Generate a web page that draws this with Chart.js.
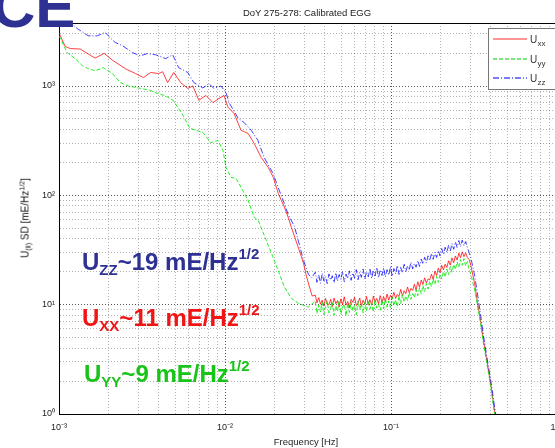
<!DOCTYPE html>
<html>
<head>
<meta charset="utf-8">
<script src="https://cdn.jsdelivr.net/npm/chart.js@4/dist/chart.umd.min.js"></script>
<style>
  html, body { margin: 0; padding: 0; background: #fff; overflow: hidden; }
  #wrap { position: relative; width: 555px; height: 448px; overflow: hidden; }
  #grafico { position: absolute; left: 0; top: 0; }
  .lbl { position: absolute; white-space: nowrap; font-family: "Liberation Sans", Arial, sans-serif; }
  .big { font-weight: bold; font-size: 24px; line-height: 24px; }
  .big .sb { font-size: 15px; position: relative; top: 5px; }
  .big .sp { font-size: 15px; position: relative; top: -11px; }
  .small .sb { font-size: 7px; position: relative; top: 2px; }
  .small .sp { font-size: 7px; position: relative; top: -4px; }
</style>
</head>
<body>
<div id="wrap">
  <canvas id="grafico" width="562" height="448"></canvas>
  <div class="lbl" style="left:157px; top:7px; width:300px; text-align:center; font-size:9.5px; color:#222;">DoY 275-278: Calibrated EGG</div>
  <div class="lbl" style="left:206px; top:436px; width:200px; text-align:center; font-size:9.5px; color:#222;">Frequency [Hz]</div>
  <div class="lbl small" style="left:25px; top:218px; font-size:10px; color:#111; transform:translate(-50%,-50%) rotate(-90deg);">U<span class="sb">(ii)</span> SD [mE/Hz<span class="sp">1/2</span>]</div>
  <div class="lbl big" style="left:82px; top:250px; color:#2E3192;">U<span class="sb">ZZ</span>~19 mE/Hz<span class="sp">1/2</span></div>
  <div class="lbl big" style="left:82px; top:306px; color:#f01414;">U<span class="sb">XX</span>~11 mE/Hz<span class="sp">1/2</span></div>
  <div class="lbl big" style="left:84px; top:362px; color:#19c419;">U<span class="sb">YY</span>~9 mE/Hz<span class="sp">1/2</span></div>
  <div class="lbl" style="left:-8px; top:-23px; font-size:60px; line-height:60px; font-weight:bold; color:#2E3192;">CE</div>
</div>
<script>
// Frequências comuns (Hz) da faixa ruidosa e da queda final
const bandFreq = [
  0.0350, 0.0358, 0.0367, 0.0376, 0.0385, 0.0394, 0.0403, 0.0413, 0.0423, 0.0433,
  0.0443, 0.0454, 0.0465, 0.0476, 0.0487, 0.0499, 0.0511, 0.0523, 0.0536, 0.0549,
  0.0562, 0.0575, 0.0589, 0.0603, 0.0618, 0.0633, 0.0648, 0.0663, 0.0679, 0.0696,
  0.0712, 0.0730, 0.0747, 0.0765, 0.0783, 0.0802, 0.0821, 0.0841, 0.0861, 0.0882,
  0.0903, 0.0925, 0.0947, 0.0969, 0.0993, 0.1016, 0.1041, 0.1066, 0.1091, 0.1117,
  0.1144, 0.1172, 0.1200, 0.1228, 0.1258, 0.1288, 0.1319, 0.1351, 0.1383, 0.1416,
  0.1450, 0.1485, 0.1521, 0.1557, 0.1594, 0.1633, 0.1672, 0.1712, 0.1753, 0.1795,
  0.1838, 0.1882, 0.1928, 0.1974, 0.2021, 0.2070, 0.2119, 0.2170, 0.2222, 0.2276,
  0.2330, 0.2386, 0.2443, 0.2502, 0.2562, 0.2623, 0.2686, 0.2751, 0.2817, 0.2884,
  0.2953, 0.3024]
const rollFreq = [0.318, 0.332, 0.346, 0.36, 0.375, 0.39, 0.405, 0.42, 0.435]

// Uxx
const lowFreqXX = [0.001, 0.00109, 0.00117, 0.00134, 0.00165, 0.00187, 0.0021, 0.00251, 0.00289, 0.00323, 0.00356, 0.00398, 0.00421, 0.00451, 0.00491, 0.00541, 0.00597, 0.0064, 0.00696, 0.00767, 0.00846, 0.0092, 0.00986, 0.01042, 0.01134, 0.0125, 0.01378, 0.015, 0.01652, 0.01822, 0.01954, 0.02094, 0.02184, 0.0228, 0.0241, 0.0251, 0.0277, 0.0297, 0.031, 0.0323, 0.0335]
const lowValXX = [3060, 2300, 2200, 2180, 1800, 1990, 1720, 1440, 1300, 1195, 1330, 1300, 1350, 1075, 1330, 1075, 950, 1000, 740, 820, 705, 770, 820, 640, 560, 393, 368, 298, 222, 180, 146, 104, 90, 78, 62, 51, 33, 24, 18, 14.5, 12]
const bandXX = [
  12.2, 10.4, 11.6, 10.1, 11.0, 9.7, 11.4, 10.3, 10.0, 11.2,
  9.6, 11.5, 10.2, 10.9, 9.5, 11.3, 10.0, 11.8, 9.9, 10.7,
  9.4, 11.2, 10.5, 11.7, 9.8, 10.3, 11.5, 9.7, 11.0, 10.1,
  11.9, 10.0, 11.1, 9.9, 12.0, 10.6, 11.4, 10.2, 12.1, 10.5,
  11.8, 10.7, 12.5, 11.0, 12.2, 11.3, 13.0, 11.4, 12.4, 11.9,
  13.8, 12.0, 13.4, 12.6, 14.5, 12.9, 14.1, 13.5, 15.4, 13.6,
  16.2, 14.4, 16.8, 15.3, 17.6, 15.8, 17.2, 16.9, 19.0, 17.0,
  20.3, 18.5, 21.6, 19.6, 22.9, 20.8, 23.5, 21.9, 25.2, 23.0,
  26.8, 24.2, 27.9, 25.6, 29.6, 26.9, 30.4, 27.5, 29.8, 27.0,
  26.0, 23.0]
const rollXX = [16, 10.5, 7.2, 4.8, 3.3, 2.3, 1.6, 1.08, 0.8]

// Uyy
const lowFreqYY = [0.001, 0.00112, 0.00125, 0.00138, 0.0015, 0.00165, 0.00185, 0.0021, 0.00234, 0.00262, 0.00301, 0.00356, 0.00379, 0.00435, 0.00486, 0.00551, 0.00615, 0.00736, 0.00823, 0.00907, 0.00972, 0.01014, 0.01087, 0.01166, 0.0125, 0.01378, 0.015, 0.01585, 0.0177, 0.0198, 0.0228, 0.0251, 0.0277, 0.0318]
const lowValYY = [2880, 2020, 1780, 1540, 1440, 1380, 1470, 1300, 1075, 1000, 960, 910, 870, 815, 740, 560, 410, 376, 303, 318, 258, 180, 146, 143, 118, 90, 63, 59, 39, 25.5, 14.5, 11.4, 10.3, 9.5]
const bandYY = [
  10.8, 8.3, 9.9, 8.6, 10.5, 8.1, 9.6, 10.7, 8.4, 9.3,
  10.4, 8.0, 9.8, 8.7, 10.9, 8.2, 9.5, 10.1, 7.9, 10.3,
  8.5, 10.6, 8.8, 9.9, 8.1, 10.8, 9.0, 10.2, 8.4, 10.5,
  8.7, 10.9, 9.1, 10.4, 8.6, 11.2, 9.3, 10.1, 8.9, 11.0,
  9.2, 11.3, 9.5, 10.8, 9.4, 11.7, 9.8, 11.1, 9.6, 12.0,
  10.2, 12.3, 10.6, 12.0, 10.9, 13.0, 11.2, 12.6, 11.6, 13.7,
  12.1, 14.2, 12.6, 15.0, 13.2, 15.6, 13.9, 16.4, 14.6, 17.2,
  15.3, 18.1, 16.0, 19.0, 17.2, 20.1, 17.9, 21.2, 18.8, 22.4,
  19.8, 23.3, 21.0, 24.6, 22.0, 25.8, 22.9, 26.4, 22.6, 24.8,
  21.0, 19.0]
const rollYY = [14, 9.8, 6.8, 4.5, 3.1, 2.2, 1.5, 1.02, 0.78]

// Uzz
const lowFreqZZ = [0.001, 0.00115, 0.00129, 0.0015, 0.0017, 0.0019, 0.00198, 0.00218, 0.00241, 0.00277, 0.00309, 0.00341, 0.00382, 0.00439, 0.00484, 0.00526, 0.00597, 0.00649, 0.00736, 0.008, 0.00859, 0.00946, 0.01014, 0.0106, 0.01202, 0.013, 0.0144, 0.0158, 0.0172, 0.0195, 0.0209, 0.0224, 0.0241, 0.0262, 0.0277, 0.0297, 0.0318, 0.0332]
const lowValZZ = [4600, 3900, 3350, 2880, 2880, 3090, 2880, 2500, 2340, 2020, 1890, 1980, 1930, 1780, 1930, 1470, 1330, 1075, 960, 1050, 950, 1000, 870, 700, 505, 465, 393, 318, 222, 158, 118, 90, 66, 52, 38, 25.5, 19, 17.5]
const bandZZ = [
  19.8, 16.0, 18.6, 15.7, 19.4, 16.5, 18.0, 15.6, 19.1, 16.8,
  18.4, 15.9, 19.6, 16.4, 18.9, 17.0, 20.1, 16.2, 19.0, 17.3,
  20.4, 16.7, 19.5, 17.5, 20.9, 16.9, 19.8, 17.8, 21.2, 17.2,
  20.0, 18.0, 21.5, 17.4, 20.6, 18.3, 21.9, 17.6, 20.8, 18.5,
  21.7, 17.9, 20.9, 18.6, 22.3, 18.2, 21.4, 19.1, 22.8, 18.9,
  21.9, 19.6, 23.4, 20.1, 22.6, 20.8, 24.5, 21.2, 23.9, 22.0,
  25.3, 22.4, 26.1, 23.5, 27.2, 24.1, 28.0, 25.3, 29.4, 26.0,
  30.1, 27.0, 31.2, 27.9, 32.6, 28.8, 33.5, 30.0, 34.9, 31.0,
  36.2, 32.1, 37.5, 33.4, 38.6, 34.0, 38.9, 34.6, 37.8, 33.5,
  30.0, 27.0]
const rollZZ = [19, 12.5, 8.2, 5.3, 3.6, 2.5, 1.75, 1.18, 0.85]

// Ticks dos eixos
const xTicks = [0.001, 0.002, 0.003, 0.004, 0.005, 0.006, 0.007, 0.008, 0.009, 0.01, 0.02, 0.03, 0.04, 0.05, 0.06, 0.07, 0.08, 0.09, 0.1, 0.2, 0.3, 0.4, 0.5, 0.6, 0.7, 0.8, 0.9, 1]
const yTicks = [1, 2, 3, 4, 5, 6, 7, 8, 9, 10, 20, 30, 40, 50, 60, 70, 80, 90, 100, 200, 300, 400, 500, 600, 700, 800, 900, 1000, 2000, 3000]

function serie(freqs, vals) {
  return freqs.map((f, i) => ({ x: f, y: vals[i] }))
}

function isDecade(v) {
  const e = Math.log10(v)
  return Math.abs(e - Math.round(e)) < 1e-9
}

const supMap = { '-': '\u207B', '0': '\u2070', '1': '\u00B9', '2': '\u00B2', '3': '\u00B3' }
function decadeLabel(v) {
  if (!isDecade(v)) return ''
  const e = String(Math.round(Math.log10(v)))
  return '10' + e.split('').map(c => supMap[c]).join('')
}

const gridColor = (ctx) => ctx.tick && isDecade(ctx.tick.value) ? 'rgba(0,0,0,0.65)' : 'rgba(0,0,0,0.3)'

// Legenda no estilo do MATLAB
const legendItems = [
  { sub: 'xx', color: '#ff7070', dash: [], y: 39 },
  { sub: 'yy', color: '#50e050', dash: [4, 2], y: 59 },
  { sub: 'zz', color: '#5050ff', dash: [6, 2, 1, 2], y: 78 },
]

const moldura = {
  id: 'moldura',
  afterDraw(chart) {
    const c = chart.ctx
    const a = chart.chartArea
    c.save()
    c.strokeStyle = '#000'
    c.lineWidth = 1
    c.beginPath()
    c.moveTo(Math.round(a.left) + 0.5, Math.round(a.top) + 0.5)
    c.lineTo(Math.round(a.right) + 0.5, Math.round(a.top) + 0.5)
    c.lineTo(Math.round(a.right) + 0.5, Math.round(a.bottom) + 0.5)
    c.stroke()

    // caixa da legenda
    c.fillStyle = '#fff'
    c.fillRect(488.5, 28.5, 70, 61)
    c.strokeStyle = '#777'
    c.strokeRect(488.5, 28.5, 70, 61)
    legendItems.forEach(item => {
      c.strokeStyle = item.color
      c.lineWidth = 1.5
      c.setLineDash(item.dash)
      c.beginPath()
      c.moveTo(493, item.y)
      c.lineTo(527, item.y)
      c.stroke()
      c.setLineDash([])
      c.fillStyle = '#333'
      c.font = '10px "Liberation Sans", Arial, sans-serif'
      c.textBaseline = 'alphabetic'
      c.fillText('U', 530, item.y + 3.5)
      c.font = '8px "Liberation Sans", Arial, sans-serif'
      c.fillText(item.sub, 537.5, item.y + 7)
    })
    c.restore()
  }
}

const ctx = document.getElementById('grafico').getContext('2d')
const grafico = new Chart(ctx, {
  type: 'line',
  data: {
    datasets: [
      {
        label: 'Uzz',
        data: serie(lowFreqZZ.concat(bandFreq, rollFreq), lowValZZ.concat(bandZZ, rollZZ)),
        borderColor: 'rgba(0,0,255,0.75)',
        borderDash: [6, 2, 1, 2],
        borderWidth: 1,
        order: 0
      },
      {
        label: 'Uyy',
        data: serie(lowFreqYY.concat(bandFreq, rollFreq), lowValYY.concat(bandYY, rollYY)),
        borderColor: 'rgba(0,235,0,0.85)',
        borderDash: [4, 2],
        borderWidth: 1,
        order: 1
      },
      {
        label: 'Uxx',
        data: serie(lowFreqXX.concat(bandFreq, rollFreq), lowValXX.concat(bandXX, rollXX)),
        borderColor: 'rgba(255,0,0,0.75)',
        borderWidth: 1,
        order: 2
      },
    ]
  },
  options: {
    responsive: false,
    animation: false,
    layout: { padding: { top: 23, right: 5, left: 0, bottom: 0 } },
    elements: { point: { radius: 0 }, line: { tension: 0 } },
    plugins: { legend: { display: false }, tooltip: { enabled: false } },
    scales: {
      x: {
        type: 'logarithmic',
        min: 0.001,
        max: 1,
        afterFit: s => { s.height = 34; s.paddingLeft = 0; s.paddingRight = 0 },
        afterBuildTicks: s => { s.ticks = xTicks.map(v => ({ value: v })) },
        grid: { color: gridColor, lineWidth: 1, drawTicks: false },
        border: { display: true, color: '#000', width: 1, dash: [1, 2] },
        ticks: {
          autoSkip: false, maxRotation: 0, padding: 8, color: '#222',
          font: { family: '"Liberation Sans", Arial, sans-serif', size: 9 },
          callback: v => decadeLabel(v)
        }
      },
      y: {
        type: 'logarithmic',
        min: 1,
        max: 3770,
        afterFit: s => { s.width = 59; s.paddingTop = 0; s.paddingBottom = 0 },
        afterBuildTicks: s => { s.ticks = yTicks.map(v => ({ value: v })) },
        grid: { color: gridColor, lineWidth: 1, drawTicks: false },
        border: { display: true, color: '#000', width: 1, dash: [1, 2] },
        ticks: {
          autoSkip: false, padding: 4, color: '#222',
          font: { family: '"Liberation Sans", Arial, sans-serif', size: 9 },
          callback: v => decadeLabel(v)
        }
      }
    }
  },
  plugins: [moldura]
})
</script>
</body>
</html>
